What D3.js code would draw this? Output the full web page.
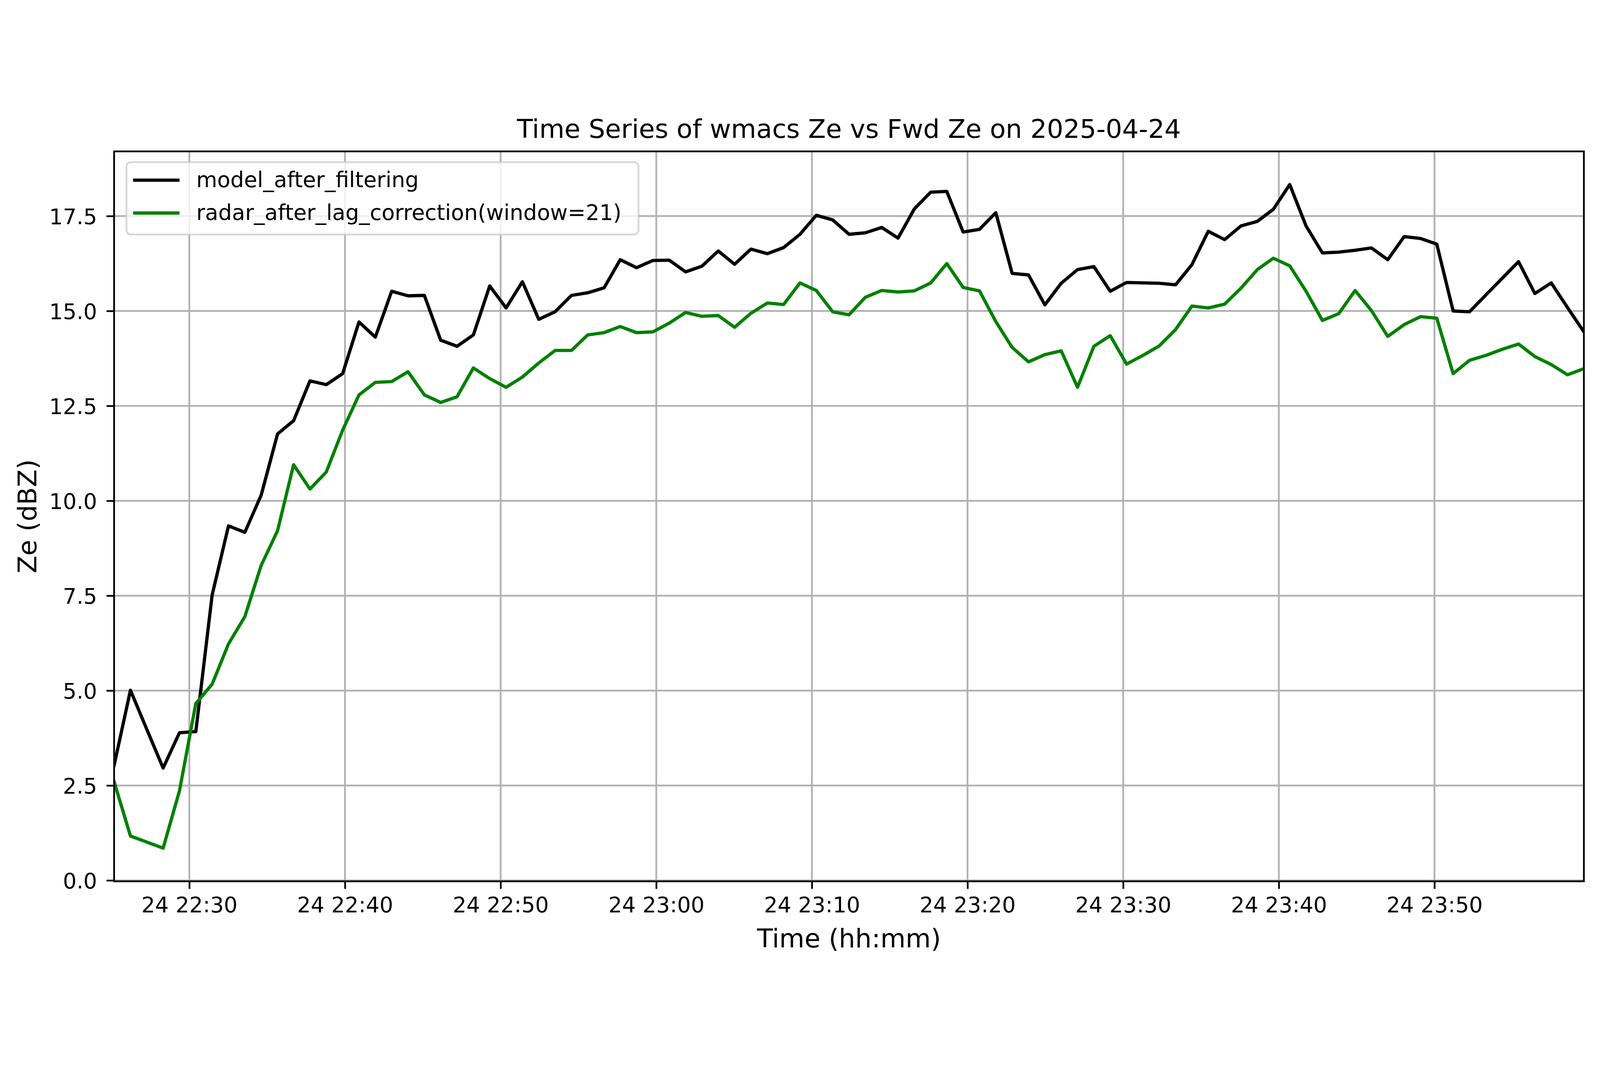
<!DOCTYPE html>
<html>
<head>
<meta charset="utf-8">
<script src="https://cdn.jsdelivr.net/npm/d3@7"></script>
<style>
  html, body { margin: 0; padding: 0; background: #fff; overflow: hidden; }
  svg { display: block; width: 100vw; height: 100vh; font-family: "DejaVu Sans", sans-serif; }
</style>
</head>
<body>
<div id="chart"></div>
<script>
// sample times (2025-04-24)
var timeLabels = [
  "22:25:10","22:26:13","22:27:16","22:28:19","22:29:22","22:30:25","22:31:28","22:32:31","22:33:34","22:34:37",
  "22:35:40","22:36:42","22:37:45","22:38:48","22:39:51","22:40:54","22:41:57","22:43:00","22:44:03","22:45:06",
  "22:46:09","22:47:12","22:48:15","22:49:18","22:50:21","22:51:24","22:52:27","22:53:30","22:54:33","22:55:36",
  "22:56:39","22:57:41","22:58:44","22:59:47","23:00:50","23:01:53","23:02:56","23:03:59","23:05:02","23:06:05",
  "23:07:08","23:08:11","23:09:14","23:10:17","23:11:20","23:12:23","23:13:26","23:14:29","23:15:32","23:16:35",
  "23:17:38","23:18:40","23:19:43","23:20:46","23:21:49","23:22:52","23:23:55","23:24:58","23:26:01","23:27:04",
  "23:28:07","23:29:10","23:30:13","23:31:16","23:32:19","23:33:22","23:34:25","23:35:28","23:36:31","23:37:34",
  "23:38:37","23:39:39","23:40:42","23:41:45","23:42:48","23:43:51","23:44:54","23:45:57","23:47:00","23:48:03",
  "23:49:06","23:50:09","23:51:12","23:52:15","23:53:18","23:54:21","23:55:24","23:56:27","23:57:30","23:58:33",
  "23:59:36"
];
var modelZe = [
  3.03, 5.01, 3.98, 2.96, 3.89, 3.92, 7.52, 9.34, 9.17, 10.15,
  11.76, 12.11, 13.16, 13.06, 13.35, 14.71, 14.31, 15.52, 15.40, 15.41,
  14.23, 14.07, 14.37, 15.66, 15.08, 15.77, 14.78, 14.98, 15.41, 15.48,
  15.61, 16.35, 16.14, 16.33, 16.34, 16.03, 16.18, 16.58, 16.23, 16.63,
  16.51, 16.67, 17.02, 17.52, 17.40, 17.02, 17.06, 17.20, 16.92, 17.69,
  18.13, 18.15, 17.08, 17.15, 17.59, 15.99, 15.95, 15.16, 15.73, 16.09,
  16.17, 15.52, 15.75, 15.74, 15.73, 15.69, 16.22, 17.10, 16.88, 17.24,
  17.36, 17.68, 18.33, 17.24, 16.53, 16.55, 16.60, 16.66, 16.35, 16.96,
  16.91, 16.76, 15.00, 14.98, 15.42, 15.86, 16.30, 15.46, 15.74, 15.09,
  14.45
];
var radarZe = [
  2.60, 1.17, 1.01, 0.85, 2.36, 4.66, 5.17, 6.23, 6.95, 8.30,
  9.21, 10.95, 10.31, 10.76, 11.86, 12.79, 13.12, 13.14, 13.40, 12.79,
  12.59, 12.74, 13.50, 13.22, 12.99, 13.26, 13.63, 13.96, 13.96, 14.37,
  14.43, 14.59, 14.43, 14.45, 14.68, 14.96, 14.86, 14.88, 14.57, 14.94,
  15.21, 15.17, 15.74, 15.54, 14.98, 14.90, 15.36, 15.54, 15.50, 15.53,
  15.74, 16.25, 15.62, 15.53, 14.72, 14.04, 13.66, 13.85, 13.95, 12.99,
  14.07, 14.35, 13.60, 13.83, 14.08, 14.51, 15.13, 15.08, 15.18, 15.60,
  16.09, 16.39, 16.19, 15.52, 14.75, 14.93, 15.54, 15.01, 14.33, 14.64,
  14.85, 14.81, 13.35, 13.70, 13.83, 13.99, 14.13, 13.80, 13.59, 13.32,
  13.48
];
var seriesNames = ["model_after_filtering", "radar_after_lag_correction(window=21)"];
var seriesColors = ["#000000", "#008000"];
var xTickLabels = ["22:30","22:40","22:50","23:00","23:10","23:20","23:30","23:40","23:50"];
var yTickValues = [0, 2.5, 5, 7.5, 10, 12.5, 15, 17.5];
var dateStr = "2025-04-24";

var W = 5062, H = 2740;
var margin = {left: 361, right: W - 5011, top: 156, bottom: H - 2466};
var lw = 10.3, thin = 5.5, tickLen = 24, fontSmall = 68, fontBig = 82;

var parseT = d3.timeParse("%Y-%m-%d %H:%M:%S");
var times = timeLabels.map(t => parseT(dateStr + " " + t));
var xTicks = xTickLabels.map(t => parseT(dateStr + " " + t + ":00"));

// the svg scales to whatever the window is
var svg = d3.select("#chart").append("svg")
    .attr("viewBox", "0 0 " + W + " " + H)
    .attr("preserveAspectRatio", "xMidYMid meet");

var x = d3.scaleTime()
    .domain(d3.extent(times))
    .range([margin.left, W - margin.right]);

// matplotlib style 5% padding round the data
var allVals = modelZe.concat(radarZe);
var lo = d3.min(allVals), hi = d3.max(allVals), pad = (hi - lo) * 0.05;
var y = d3.scaleLinear()
    .domain([lo - pad, hi + pad])
    .range([H - margin.bottom, margin.top]);

var pw = W - margin.left - margin.right, ph = H - margin.top - margin.bottom;

svg.append("rect").attr("width", W).attr("height", H).attr("fill", "#fff");

svg.append("defs").append("clipPath").attr("id", "clip")
  .append("rect").attr("x", margin.left).attr("y", margin.top)
  .attr("width", pw).attr("height", ph);

// grid
var grid = svg.append("g").attr("stroke", "#b0b0b0").attr("stroke-width", thin);
grid.selectAll(".gx").data(xTicks).join("line")
    .attr("x1", d => x(d)).attr("x2", d => x(d))
    .attr("y1", margin.top).attr("y2", H - margin.bottom);
grid.selectAll(".gy").data(yTickValues).join("line")
    .attr("x1", margin.left).attr("x2", W - margin.right)
    .attr("y1", d => y(d)).attr("y2", d => y(d));

// lines
var line = d3.line().x((d, i) => x(times[i])).y(d => y(d));
svg.append("g").attr("clip-path", "url(#clip)")
  .selectAll("path").data([modelZe, radarZe]).join("path")
    .attr("d", d => line(d))
    .attr("fill", "none")
    .attr("stroke", (d, i) => seriesColors[i])
    .attr("stroke-width", lw)
    .attr("stroke-linejoin", "round")
    .attr("stroke-linecap", "square");

// axes
var xAxis = d3.axisBottom(x).tickValues(xTicks)
    .tickFormat(d3.timeFormat("%d %H:%M"))
    .tickSize(tickLen).tickPadding(22);
var yAxis = d3.axisLeft(y).tickValues(yTickValues)
    .tickFormat(d3.format(".1f"))
    .tickSize(tickLen).tickPadding(30);

var gx = svg.append("g").attr("transform", `translate(0,${H - margin.bottom})`).call(xAxis);
var gy = svg.append("g").attr("transform", `translate(${margin.left},0)`).call(yAxis);
[gx, gy].forEach(g => {
  g.select(".domain").remove();
  g.selectAll(".tick line").attr("stroke", "#000").attr("stroke-width", thin);
  g.selectAll(".tick text").attr("fill", "#000")
    .style("font-family", "DejaVu Sans").style("font-size", fontSmall + "px");
});
gx.selectAll(".tick text").attr("dy", "0.76em");
gy.selectAll(".tick text").attr("dy", "0.36em");

// frame
svg.append("rect")
    .attr("x", margin.left).attr("y", margin.top)
    .attr("width", pw).attr("height", ph)
    .attr("fill", "none").attr("stroke", "#000").attr("stroke-width", thin);

// texts
svg.append("text")
    .attr("x", margin.left + pw / 2).attr("y", 113)
    .attr("text-anchor", "middle")
    .style("font-size", fontBig + "px")
    .text("Time Series of wmacs Ze vs Fwd Ze on 2025-04-24");
svg.append("text")
    .attr("x", margin.left + pw / 2).attr("y", 2675)
    .attr("text-anchor", "middle")
    .style("font-size", fontBig + "px")
    .text("Time (hh:mm)");
svg.append("text")
    .attr("transform", `translate(115,${margin.top + ph / 2}) rotate(-90)`)
    .attr("text-anchor", "middle")
    .style("font-size", fontBig + "px")
    .text("Ze (dBZ)");

// legend
var leg = svg.append("g");
leg.append("rect")
    .attr("x", 400).attr("y", 190).attr("width", 1620).attr("height", 229)
    .attr("rx", 14).attr("ry", 14)
    .attr("fill", "#fff").attr("fill-opacity", 0.8)
    .attr("stroke", "#cccccc").attr("stroke-opacity", 0.8).attr("stroke-width", thin);
var items = leg.selectAll(".item").data(seriesNames).join("g")
    .attr("transform", (d, i) => `translate(0,${247 + i * 104})`);
items.append("line")
    .attr("x1", 421).attr("x2", 568)
    .attr("stroke", (d, i) => seriesColors[i]).attr("stroke-width", lw);
items.append("text")
    .attr("x", 621).attr("y", 22)
    .style("font-size", fontSmall + "px")
    .text(d => d);
</script>
</body>
</html>
